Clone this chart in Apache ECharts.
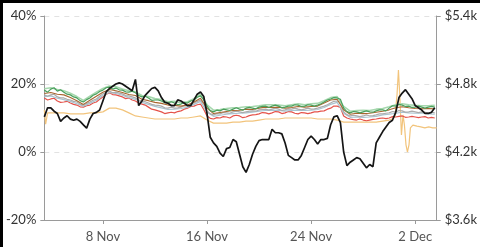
<!DOCTYPE html>
<html>
<head>
<meta charset="utf-8">
<script src="https://cdn.jsdelivr.net/npm/echarts@6/dist/echarts.min.js"></script>
<style>
    html, body { margin: 0; padding: 0; background: #000; }
    #wrap { position: relative; width: 480px; height: 247px; background: #000; overflow: hidden; }
    #chart { position: absolute; left: 3px; top: 3px; width: 477px; height: 244px; background: #fff; }
</style>
</head>
<body>
<div id="wrap"><div id="chart"></div></div>
<script>
// x axis: day of November (2 Dec = 32)
var tickDays = [8, 16, 24, 32];
var tickLabels = ['8 Nov', '16 Nov', '24 Nov', '2 Dec'];

// sampling of the series
var coarseStart = 3.5, coarseStep = 0.5;   // 61 points
var fineStart = 3.5, fineStep = 0.25;      // 121 points

// % series (left axis)
// every 6 h
var green = [18.2,17.6,18.5,18.9,17.9,18.3,17.6,17.0,16.8,16.2,
    15.9,15.1,14.7,15.4,15.9,16.7,17.1,17.8,18.2,18.9,
    19.1,18.5,18.8,18.3,18.2,17.7,17.6,17.9,17.4,16.6,
    16.2,16.4,15.9,15.2,15.3,15.3,15.0,14.5,14.4,14.8,
    14.4,13.9,14.1,14.6,14.4,15.0,15.3,16.1,16.5,15.4,
    13.5,12.2,11.8,12.3,12.1,12.6,12.4,12.2,12.6,13.0,
    12.6,12.3,12.9,13.1,12.9,12.7,13.2,13.4,13.5,13.1,
    13.5,13.8,13.5,13.0,13.2,13.5,13.5,13.9,13.8,13.4,
    13.5,13.9,13.8,13.5,13.8,14.2,14.7,15.3,15.6,16.0,
    15.9,15.5,12.9,11.9,11.5,11.9,11.8,11.5,11.8,12.1,
    11.8,11.7,12.1,12.4,12.4,12.1,12.9,13.6,13.5,14.0,
    13.8,13.4,13.5,13.1,13.2,13.5,13.2,12.9,13.2,13.4,
    13.2];
var red = [15.9,15.3,15.6,15.8,15.0,14.6,14.7,14.9,14.4,14.0,
    13.8,13.3,13.2,13.6,13.8,14.4,14.7,15.5,16.2,17.0,
    17.4,16.9,16.8,16.5,16.2,15.7,15.9,15.3,15.0,14.4,
    14.1,13.8,13.2,12.6,12.4,12.1,11.8,11.3,11.5,11.7,
    11.5,11.9,12.1,12.6,12.9,13.4,13.5,13.9,14.1,12.5,
    10.6,9.9,9.7,10.1,10.0,10.4,10.3,10.0,10.6,10.8,
    10.6,10.1,10.3,10.7,10.9,11.0,11.2,11.6,11.5,11.2,
    11.5,11.9,11.8,11.3,11.5,11.9,11.8,11.4,11.2,11.6,
    11.5,11.3,11.5,11.8,11.8,12.0,12.1,12.6,12.9,13.5,
    13.5,13.1,10.6,10.0,9.7,9.5,9.4,9.7,9.4,9.2,
    9.4,9.6,9.7,9.9,10.0,9.8,10.0,10.4,10.3,10.5,
    10.6,10.2,10.3,10.5,10.3,10.1,10.3,10.4,10.0,10.2,
    10.0];
var gray = [16.8,16.4,16.8,17.0,16.2,15.9,15.9,15.5,15.3,14.9,
    14.7,14.1,13.8,14.3,14.7,15.2,15.6,16.4,17.1,17.6,
    17.9,17.4,17.6,17.3,17.1,16.6,16.5,16.2,15.9,15.3,
    15.0,14.8,14.4,14.0,13.8,13.7,13.5,13.0,12.9,13.2,
    12.9,13.0,13.2,13.6,13.5,14.0,14.4,14.9,15.3,14.1,
    12.1,11.2,10.9,11.3,11.2,11.6,11.5,11.4,11.8,12.0,
    11.8,11.6,11.8,12.0,12.1,12.0,12.4,12.5,12.6,12.3,
    12.6,12.9,12.6,12.2,12.4,12.7,12.6,12.9,12.6,12.4,
    12.6,12.9,12.6,12.7,12.9,13.2,13.5,13.9,14.4,14.9,
    15.0,14.6,11.8,11.0,10.6,10.8,10.6,10.4,10.6,10.9,
    10.6,10.7,10.9,11.2,11.2,11.4,11.5,11.9,11.8,12.2,
    12.1,11.7,11.8,12.0,11.8,11.6,11.8,11.7,11.5,11.7,
    11.5];
// every 12 h
var lightGreen = [18.6,18.9,18.4,18.0,17.3,16.3,15.2,16.4,17.6,18.7,19.4,19.2,18.5,18.0,17.7,16.6,16.3,15.7,15.4,14.8,
    14.9,14.5,14.8,15.7,16.9,13.9,12.3,12.5,12.8,13.0,13.1,13.3,13.4,13.6,13.9,13.9,13.8,13.6,13.9,14.2,
    13.9,14.2,14.3,15.1,16.0,16.3,13.4,12.0,12.2,12.3,12.2,12.6,12.8,13.3,13.9,14.2,13.9,13.7,13.6,13.6,13.7];
var brown = [17.2,17.5,17.0,16.8,16.0,15.1,14.0,15.2,16.4,17.6,18.4,18.0,17.5,16.9,16.6,15.5,15.1,14.6,14.3,13.8,
    13.7,13.5,13.8,14.7,15.8,12.9,11.3,11.6,11.9,12.2,12.3,12.6,12.5,12.9,13.2,13.1,13.2,12.9,13.1,13.4,
    13.2,13.4,13.5,14.4,15.3,15.5,12.4,11.1,11.4,11.3,11.4,11.7,12.0,12.4,13.0,13.3,13.0,12.8,12.7,12.8,12.7];
var blueGray = [16.3,16.5,15.8,15.4,14.9,14.2,13.5,14.3,15.2,16.6,17.5,17.2,16.7,16.0,15.5,14.6,14.0,13.4,13.0,12.5,
    12.6,12.8,13.1,14.0,14.9,11.7,10.5,10.8,11.1,11.3,11.4,11.5,11.7,12.0,12.2,12.3,12.2,12.0,12.2,12.3,
    12.2,12.3,12.5,13.1,14.0,14.6,11.4,10.2,10.3,10.2,10.3,10.5,10.9,11.1,11.4,11.7,11.5,11.4,11.5,11.2,11.1];

// orange: irregular sampling around the spike
var orangeDays = [3.5,3.6,3.75,4,4.5,5,5.5,6,6.5,7,7.5,8,8.5,9,9.5,10,10.5,11,11.5,12,12.5,13,13.5,14,14.5,15,15.5,
    16,16.5,17,17.5,18,18.5,19,19.5,20,20.5,21,21.5,22,22.5,23,23.5,24,24.5,25,25.5,26,26.5,27,27.5,28,28.5,29,29.5,30,
    30.22,30.45,30.6,30.71,30.83,30.94,31.06,31.17,31.29,31.4,31.52,31.63,31.82,32.13,32.43,32.74,33.04,33.35,33.65];
var orange = [12.4,8.2,11.5,11.5,11.5,11.5,11.2,11.2,11.2,11.5,11.5,11.8,12.9,12.9,12.4,11.5,10.6,10.3,10.0,9.7,9.7,9.7,9.7,10.0,10.0,10.3,10.6,
    9.4,8.5,8.5,8.5,8.8,8.8,9.1,9.1,9.4,9.7,9.7,9.7,10.0,10.0,10.0,10.0,10.0,9.7,9.7,9.7,9.4,8.8,8.8,8.8,8.8,8.8,8.8,9.1,9.4,
    9.7,10.6,16.8,24.1,15.3,5.0,10.9,7.9,2.1,0.0,2.1,7.1,7.9,7.6,7.4,7.1,7.4,7.1,7.1];

// price in $k (right axis), every 6 h
var price = [4.51,4.59,4.59,4.56,4.54,4.47,4.50,4.52,4.49,4.48,
    4.49,4.47,4.44,4.41,4.49,4.54,4.55,4.57,4.65,4.73,
    4.76,4.78,4.80,4.81,4.80,4.78,4.76,4.74,4.84,4.61,
    4.65,4.70,4.73,4.76,4.77,4.74,4.68,4.64,4.63,4.61,
    4.61,4.66,4.65,4.63,4.61,4.61,4.66,4.71,4.73,4.69,
    4.54,4.33,4.28,4.25,4.19,4.16,4.23,4.24,4.31,4.29,
    4.18,4.07,4.02,4.09,4.18,4.25,4.30,4.31,4.31,4.31,
    4.40,4.37,4.37,4.36,4.28,4.17,4.15,4.13,4.13,4.17,
    4.24,4.31,4.34,4.31,4.27,4.31,4.31,4.32,4.44,4.51,
    4.52,4.46,4.20,4.08,4.11,4.13,4.15,4.14,4.10,4.06,
    4.09,4.07,4.28,4.33,4.38,4.42,4.46,4.48,4.55,4.68,
    4.72,4.75,4.71,4.67,4.61,4.59,4.57,4.54,4.54,4.55,
    4.59];

function pairs(start, step, values) {
    var out = [];
    for (var i = 0; i < values.length; i++) {
        out.push([start + i * step, values[i]]);
    }
    return out;
}

function zip(xs, ys) {
    var out = [];
    for (var i = 0; i < xs.length; i++) {
        out.push([xs[i], ys[i]]);
    }
    return out;
}

function lineSeries(name, data, color, width, yIndex) {
    return {
        name: name,
        type: 'line',
        yAxisIndex: yIndex || 0,
        data: data,
        showSymbol: false,
        symbol: 'none',
        lineStyle: {color: color, width: width},
        itemStyle: {color: color},
        z: 2
    };
}

var chart = echarts.init(document.getElementById('chart'));
var axisGray = '#9a9a9a';
var labelFont = 'Lato, "Open Sans", sans-serif';

var option = {
    animation: false,
    backgroundColor: '#fff',
    grid: {left: 40, right: 42, top: 13, bottom: 27},
    xAxis: {
        type: 'value',
        min: 3.5,
        max: 33.65,
        splitLine: {show: false},
        axisLine: {onZero: false, lineStyle: {color: axisGray}},
        axisTick: {show: true, customValues: tickDays, length: 4, lineStyle: {color: axisGray}},
        axisLabel: {
            customValues: tickDays,
            margin: 10,
            color: '#555',
            fontSize: 13,
            fontFamily: labelFont,
            formatter: function (v) {
                var i = tickDays.indexOf(Math.round(v));
                return i >= 0 ? tickLabels[i] : '';
            }
        }
    },
    yAxis: [
        {
            type: 'value',
            min: -20,
            max: 40,
            interval: 20,
            axisLine: {show: true, lineStyle: {color: axisGray}},
            axisTick: {show: true, length: 4, lineStyle: {color: axisGray}},
            axisLabel: {color: '#333', fontSize: 13, fontFamily: labelFont, margin: 8,
                formatter: function (v) { return v + '%'; }},
            splitLine: {show: true, lineStyle: {color: '#e2e2e2', type: [5, 5]}}
        },
        {
            type: 'value',
            position: 'right',
            min: 3.6,
            max: 5.4,
            interval: 0.6,
            axisLine: {show: true, lineStyle: {color: axisGray}},
            axisTick: {show: true, length: 4, lineStyle: {color: axisGray}},
            axisLabel: {color: '#333', fontSize: 13, fontFamily: labelFont, margin: 8,
                formatter: function (v) { return '$' + v.toFixed(1) + 'k'; }},
            splitLine: {show: false}
        }
    ],
    series: [
        lineSeries('orange', zip(orangeDays, orange), '#f2c47c', 1.2),
        lineSeries('red', pairs(fineStart, fineStep, red), '#e5534b', 1.2),
        lineSeries('bluegray', pairs(coarseStart, coarseStep, blueGray), '#a9c3cf', 1.2),
        lineSeries('gray', pairs(fineStart, fineStep, gray), '#ababab', 1.2),
        lineSeries('brown', pairs(coarseStart, coarseStep, brown), '#a8662f', 1.1),
        lineSeries('lightgreen', pairs(coarseStart, coarseStep, lightGreen), '#a6d8ae', 1.6),
        lineSeries('green', pairs(fineStart, fineStep, green), '#4a9f5c', 1.2),
        lineSeries('price', pairs(fineStart, fineStep, price), '#151515', 1.7, 1)
    ]
};

chart.setOption(option);
</script>
</body>
</html>
